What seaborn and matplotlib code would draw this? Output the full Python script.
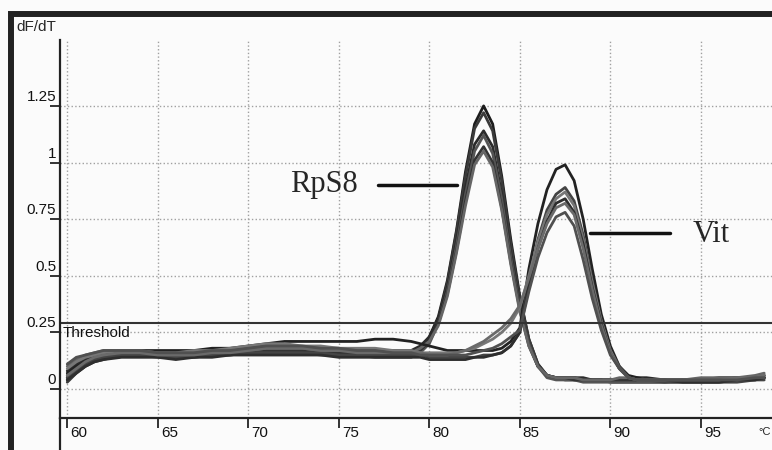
import numpy as np
import pandas as pd
import seaborn as sns
import matplotlib.pyplot as plt
import matplotlib.transforms as mtransforms
from matplotlib.patches import Rectangle

# melt curve readings (temperature in degC, dF/dT)
temps = [60, 60.5, 61, 61.5, 62, 63, 64, 65, 66, 67, 68, 69, 70, 71, 72, 73, 74, 75, 76, 77, 78, 79,
         79.5, 80, 80.5, 81, 81.5, 82, 82.5, 83, 83.5, 84, 84.5, 85, 85.5, 86, 86.5, 87, 87.5, 88,
         88.5, 89, 89.5, 90, 90.5, 91, 91.5, 92, 93, 94, 95, 96, 97, 98, 98.5]

rps8_a = [0.05, 0.09, 0.12, 0.14, 0.15, 0.16, 0.16, 0.15, 0.15, 0.16, 0.16, 0.17, 0.17, 0.18, 0.18, 0.17, 0.17, 0.16, 0.16, 0.16, 0.16, 0.16,
          0.18, 0.23, 0.32, 0.48, 0.70, 0.96, 1.17, 1.25, 1.17, 0.94, 0.66, 0.41, 0.22, 0.11, 0.06,
          0.05, 0.05, 0.05, 0.04, 0.04, 0.04, 0.04, 0.04, 0.04, 0.04, 0.04, 0.04, 0.04, 0.04, 0.04, 0.05, 0.05, 0.06]
rps8_b = [0.03, 0.07, 0.10, 0.12, 0.13, 0.15, 0.15, 0.15, 0.14, 0.15, 0.15, 0.16, 0.16, 0.16, 0.17, 0.17, 0.16, 0.16, 0.15, 0.15, 0.15, 0.15,
          0.17, 0.22, 0.31, 0.47, 0.69, 0.94, 1.15, 1.22, 1.14, 0.92, 0.64, 0.40, 0.22, 0.11, 0.06,
          0.05, 0.04, 0.04, 0.04, 0.04, 0.04, 0.03, 0.03, 0.03, 0.03, 0.03, 0.03, 0.04, 0.04, 0.04, 0.04, 0.05, 0.05]
rps8_c = [0.08, 0.11, 0.13, 0.15, 0.16, 0.17, 0.17, 0.16, 0.16, 0.16, 0.17, 0.17, 0.18, 0.19, 0.19, 0.18, 0.18, 0.18, 0.17, 0.17, 0.17, 0.17,
          0.19, 0.23, 0.31, 0.45, 0.65, 0.89, 1.08, 1.14, 1.07, 0.86, 0.60, 0.37, 0.20, 0.10, 0.06,
          0.05, 0.05, 0.05, 0.05, 0.04, 0.04, 0.04, 0.04, 0.04, 0.05, 0.05, 0.04, 0.04, 0.04, 0.05, 0.05, 0.05, 0.06]
rps8_d = [0.04, 0.08, 0.11, 0.13, 0.14, 0.15, 0.15, 0.14, 0.14, 0.14, 0.15, 0.15, 0.16, 0.16, 0.16, 0.16, 0.15, 0.15, 0.15, 0.14, 0.14, 0.14,
          0.16, 0.20, 0.29, 0.43, 0.63, 0.86, 1.05, 1.12, 1.04, 0.84, 0.58, 0.36, 0.20, 0.10, 0.05,
          0.04, 0.04, 0.04, 0.03, 0.03, 0.03, 0.03, 0.03, 0.03, 0.03, 0.03, 0.03, 0.03, 0.03, 0.03, 0.04, 0.04, 0.05]
rps8_e = [0.06, 0.10, 0.12, 0.14, 0.15, 0.16, 0.16, 0.15, 0.15, 0.15, 0.16, 0.16, 0.17, 0.17, 0.17, 0.17, 0.17, 0.16, 0.16, 0.16, 0.15, 0.15,
          0.17, 0.21, 0.29, 0.42, 0.61, 0.83, 1.01, 1.07, 1.00, 0.80, 0.56, 0.35, 0.19, 0.10, 0.06,
          0.05, 0.05, 0.04, 0.04, 0.04, 0.04, 0.04, 0.04, 0.04, 0.04, 0.04, 0.04, 0.04, 0.04, 0.04, 0.04, 0.05, 0.05]
rps8_f = [0.10, 0.13, 0.15, 0.16, 0.17, 0.17, 0.17, 0.16, 0.15, 0.16, 0.16, 0.17, 0.17, 0.18, 0.18, 0.18, 0.17, 0.17, 0.17, 0.16, 0.16, 0.16,
          0.18, 0.21, 0.28, 0.41, 0.60, 0.81, 0.99, 1.05, 0.98, 0.79, 0.55, 0.34, 0.19, 0.10, 0.06,
          0.05, 0.05, 0.05, 0.04, 0.04, 0.04, 0.04, 0.05, 0.05, 0.05, 0.04, 0.04, 0.04, 0.05, 0.05, 0.05, 0.06, 0.07]

vit_g = [0.07, 0.10, 0.12, 0.14, 0.15, 0.16, 0.17, 0.17, 0.17, 0.17, 0.18, 0.18, 0.19, 0.20, 0.21, 0.21, 0.21, 0.21, 0.21, 0.22, 0.22, 0.21,
         0.20, 0.19, 0.18, 0.17, 0.17, 0.17, 0.17, 0.17, 0.17,
         0.18, 0.21, 0.27, 0.53, 0.73, 0.88, 0.97, 0.99, 0.92, 0.75, 0.53, 0.33, 0.19, 0.10, 0.06,
         0.05, 0.04, 0.04, 0.04, 0.04, 0.04, 0.04, 0.05, 0.05]
vit_h = [0.05, 0.08, 0.11, 0.13, 0.14, 0.15, 0.15, 0.15, 0.14, 0.14, 0.15, 0.15, 0.16, 0.16, 0.16, 0.16, 0.16, 0.15, 0.15, 0.15, 0.15, 0.15,
         0.15, 0.14, 0.14, 0.14, 0.14, 0.14, 0.14, 0.15, 0.15,
         0.16, 0.19, 0.25, 0.48, 0.66, 0.79, 0.86, 0.89, 0.83, 0.68, 0.48, 0.30, 0.17, 0.10, 0.05,
         0.04, 0.04, 0.03, 0.03, 0.03, 0.03, 0.03, 0.04, 0.04]
vit_i = [0.09, 0.12, 0.14, 0.15, 0.16, 0.17, 0.17, 0.16, 0.16, 0.17, 0.17, 0.18, 0.19, 0.20, 0.20, 0.19, 0.19, 0.18, 0.18, 0.18, 0.17, 0.17,
         0.16, 0.16, 0.16, 0.16, 0.16, 0.17, 0.18, 0.20, 0.22,
         0.25, 0.29, 0.36, 0.50, 0.65, 0.77, 0.84, 0.87, 0.81, 0.66, 0.47, 0.30, 0.17, 0.09, 0.05,
         0.04, 0.04, 0.04, 0.04, 0.04, 0.04, 0.04, 0.05, 0.06]
vit_j = [0.04, 0.07, 0.10, 0.12, 0.13, 0.14, 0.14, 0.14, 0.13, 0.14, 0.14, 0.15, 0.15, 0.15, 0.15, 0.15, 0.15, 0.14, 0.14, 0.14, 0.14, 0.14,
         0.14, 0.13, 0.13, 0.13, 0.13, 0.13, 0.14, 0.14, 0.15,
         0.16, 0.19, 0.25, 0.46, 0.62, 0.74, 0.82, 0.84, 0.78, 0.64, 0.45, 0.29, 0.16, 0.09, 0.05,
         0.04, 0.04, 0.04, 0.03, 0.03, 0.03, 0.04, 0.04, 0.05]
vit_k = [0.06, 0.09, 0.12, 0.14, 0.15, 0.16, 0.16, 0.15, 0.15, 0.15, 0.16, 0.16, 0.17, 0.18, 0.18, 0.18, 0.17, 0.17, 0.16, 0.16, 0.16, 0.16,
         0.16, 0.15, 0.15, 0.15, 0.16, 0.17, 0.19, 0.21, 0.24,
         0.27, 0.31, 0.37, 0.49, 0.62, 0.73, 0.80, 0.82, 0.77, 0.62, 0.44, 0.28, 0.16, 0.09, 0.05,
         0.04, 0.04, 0.04, 0.04, 0.04, 0.04, 0.05, 0.05, 0.06]
vit_l = [0.11, 0.14, 0.15, 0.16, 0.17, 0.17, 0.17, 0.16, 0.16, 0.16, 0.17, 0.17, 0.18, 0.19, 0.19, 0.19, 0.18, 0.18, 0.17, 0.17, 0.16, 0.16,
         0.15, 0.15, 0.15, 0.15, 0.15, 0.15, 0.16, 0.17, 0.18,
         0.20, 0.23, 0.26, 0.43, 0.58, 0.69, 0.76, 0.78, 0.72, 0.57, 0.40, 0.26, 0.15, 0.09, 0.05,
         0.04, 0.04, 0.04, 0.04, 0.04, 0.04, 0.04, 0.05, 0.05]

curves = {"RpS8 a": rps8_a, "RpS8 b": rps8_b, "RpS8 c": rps8_c, "RpS8 d": rps8_d,
          "RpS8 e": rps8_e, "RpS8 f": rps8_f, "Vit g": vit_g, "Vit h": vit_h,
          "Vit i": vit_i, "Vit j": vit_j, "Vit k": vit_k, "Vit l": vit_l}
line_colors = ["#1c1c1c", "#3a3a3a", "#2b2b2b", "#555555", "#333333", "#666666",
               "#222222", "#444444", "#777777", "#2e2e2e", "#6a6a6a", "#505050"]

x_ticks = [60, 65, 70, 75, 80, 85, 90, 95]
y_ticks = [0, 0.25, 0.5, 0.75, 1, 1.25]
y_labels = ["0", "0.25", "0.5", "0.75", "1", "1.25"]
threshold = 0.29

df = pd.concat([pd.DataFrame({"temp": temps, "dfdt": v, "well": k}) for k, v in curves.items()])

sns.set_style("white")
plt.rcParams["font.family"] = ["Liberation Sans", "DejaVu Sans"]

fig = plt.figure(figsize=(7.72, 4.5), dpi=100)
fig.patch.set_facecolor("#fbfbfb")
ax = fig.add_axes([60 / 772, 32 / 450, 712 / 772, 378 / 450])
ax.set_facecolor("#fbfbfb")

sns.lineplot(data=df, x="temp", y="dfdt", hue="well", palette=line_colors,
             legend=False, errorbar=None, linewidth=2.0, ax=ax, sort=False)

ax.axhline(threshold, color="#333333", lw=1.5)
ax.text(59.72, 0.278, "Threshold", fontsize=11, va="top", ha="left", color="#111111")

ax.set_xlim(59.6, 98.93)
ax.set_ylim(-0.128, 1.541)
ax.set_xticks(x_ticks)
ax.set_yticks(y_ticks)
ax.set_yticklabels(y_labels)
ax.set_xlabel("")
ax.set_ylabel("")
ax.grid(True, ls=":", color="#a0a0a0", lw=1)

for s in ["top", "right"]:
    ax.spines[s].set_visible(False)
for s in ["left", "bottom"]:
    ax.spines[s].set_color("#222222")
    ax.spines[s].set_linewidth(1.6)

ax.tick_params(axis="x", bottom=True, direction="out", length=7, width=1.2, pad=-1.5,
               labelsize=11, colors="#111111")
ax.tick_params(axis="y", left=True, direction="out", length=7, width=1.2, pad=-4.3,
               labelsize=11, colors="#111111")
dx = mtransforms.ScaledTranslation(3 / 100, 0, fig.dpi_scale_trans)
for lab in ax.get_xticklabels():
    lab.set_ha("left")
    lab.set_transform(lab.get_transform() + dx)
dy = mtransforms.ScaledTranslation(0, 2 / 100, fig.dpi_scale_trans)
for lab in ax.get_yticklabels():
    lab.set_va("bottom")
    lab.set_transform(lab.get_transform() + dy)

# y axis runs on below the x axis
ax.plot([0, 0], [0, -40 / 378], transform=ax.transAxes, color="#222222", lw=1.6, clip_on=False)
ax.text((758 - 60) / 712, -9 / 378, "°C", transform=ax.transAxes, fontsize=8, va="top", ha="left")

# product labels
ax.text(72.32, 0.87, "RpS8", family="Liberation Serif", fontsize=22, ha="left", va="baseline")
ax.plot([77.18, 81.55], [0.90, 0.90], color="#111111", lw=2.5)
ax.text(94.53, 0.65, "Vit", family="Liberation Serif", fontsize=22, ha="left", va="baseline")
ax.plot([88.9, 93.3], [0.69, 0.69], color="#111111", lw=2.5)

fig.text(16 / 772, 1 - 34 / 450, "dF/dT", fontsize=11, ha="left", va="bottom")
fig.add_artist(Rectangle((11 / 772, -0.5), 2, 1.5 - 14 / 450, transform=fig.transFigure,
                         fill=False, lw=4.3, edgecolor="#222222"))

fig.savefig("out.png", dpi=100, facecolor=fig.get_facecolor())
